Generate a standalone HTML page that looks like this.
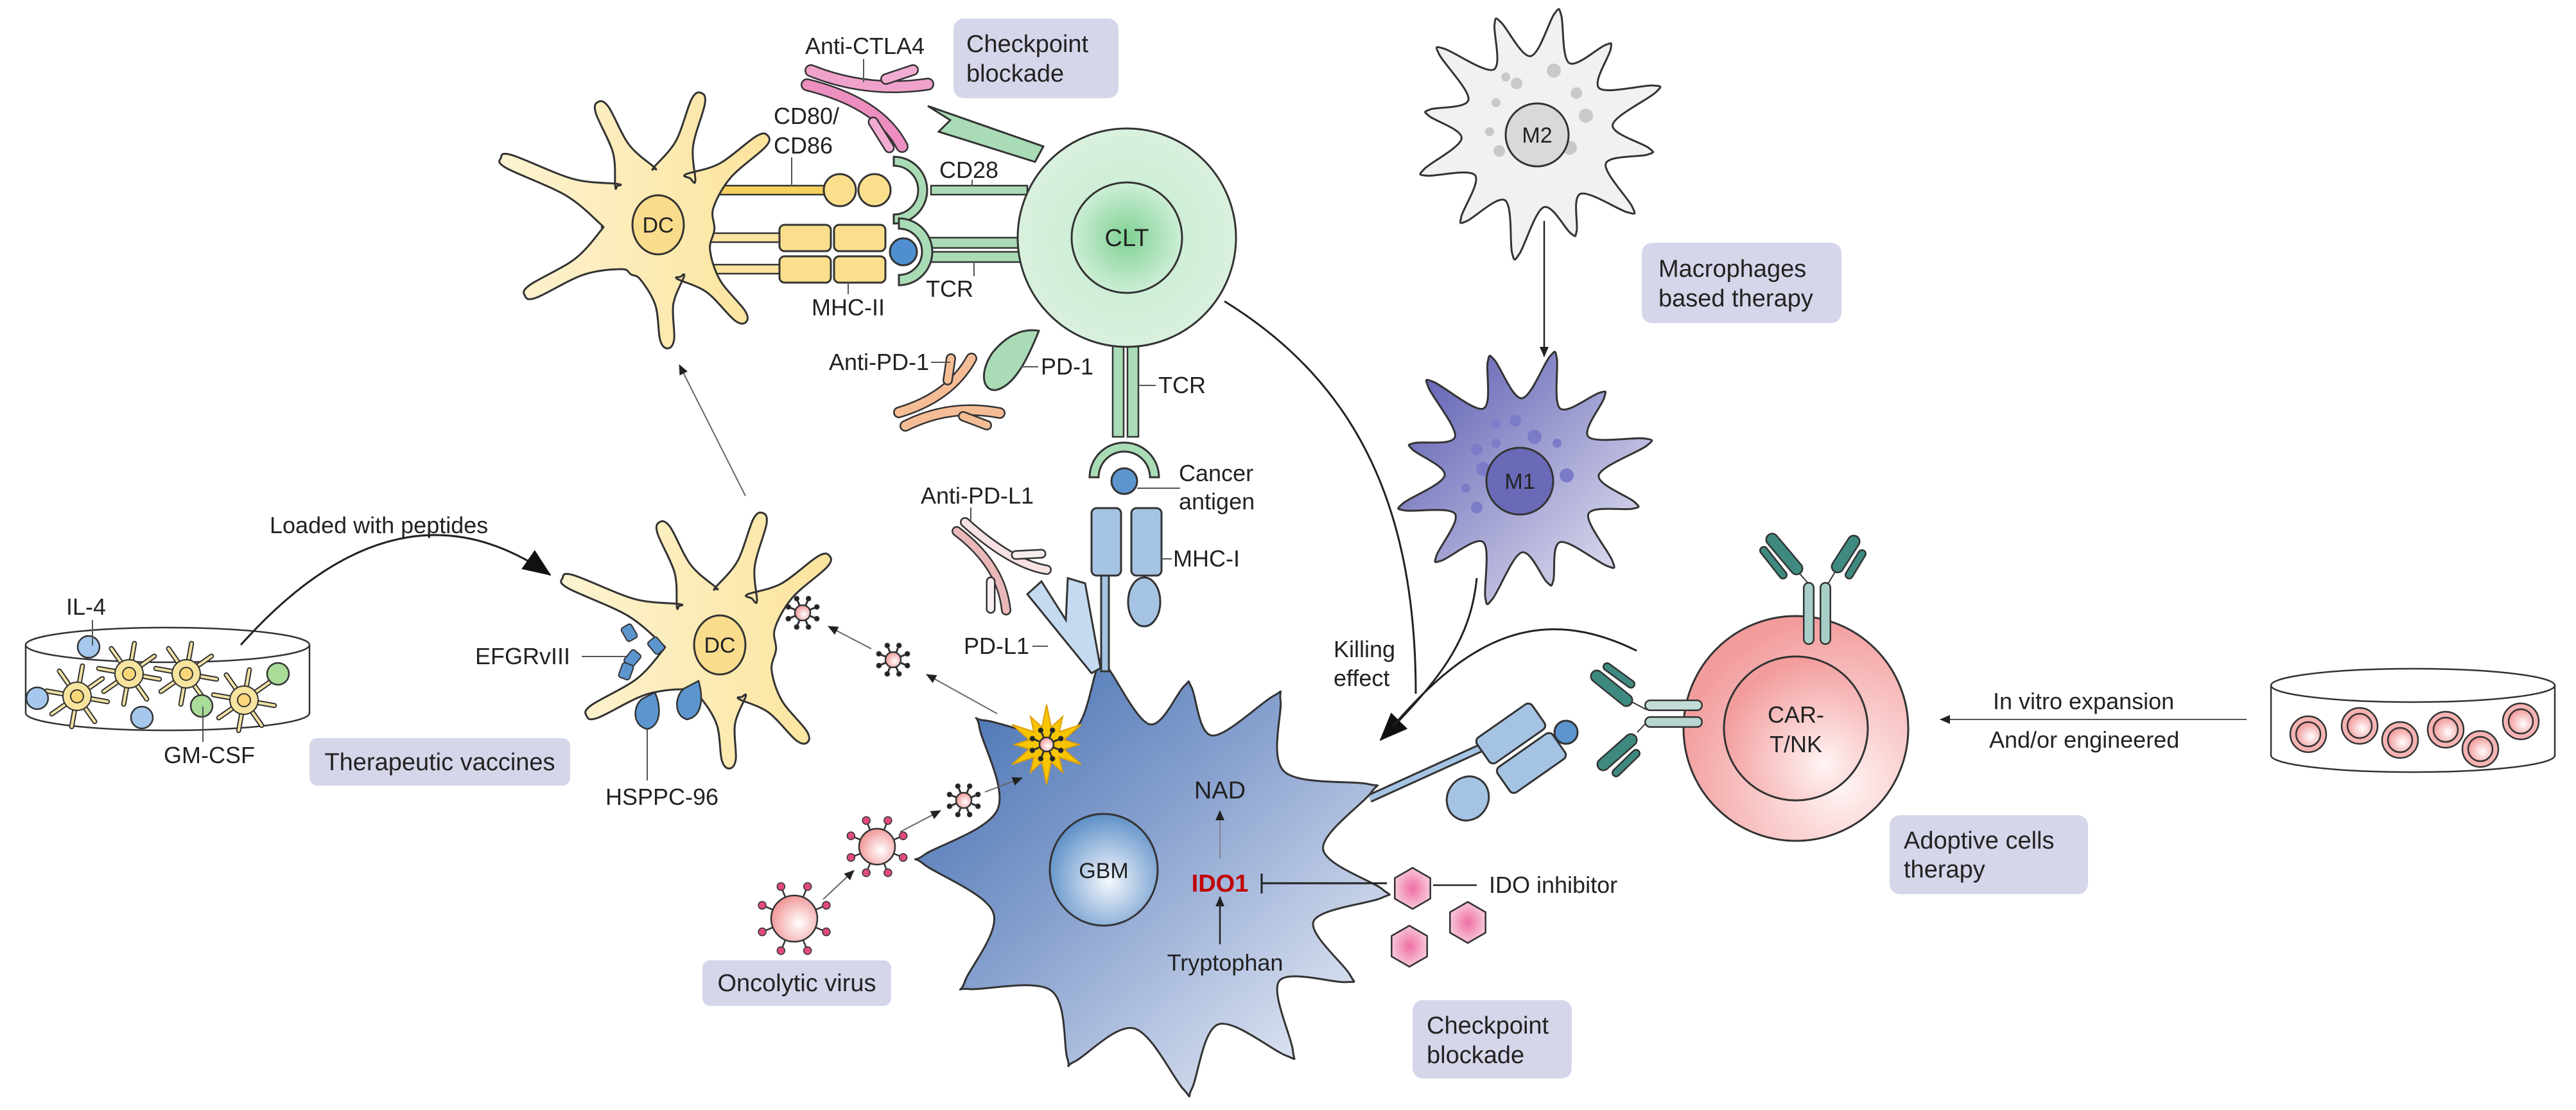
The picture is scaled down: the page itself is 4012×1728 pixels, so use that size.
<!DOCTYPE html>
<html><head><meta charset="utf-8">
<style>
html,body{margin:0;padding:0;background:#fff;}
svg{display:block;}
text{font-family:"Liberation Sans",Arial,sans-serif;fill:#222;}
</style></head>
<body>
<svg id="s" width="4012" height="1728" viewBox="0 0 4012 1728" xmlns="http://www.w3.org/2000/svg">
<defs>
<linearGradient id="gbm" x1="0" y1="0" x2="1" y2="1">
<stop offset="0" stop-color="#3a69ae"/><stop offset="0.45" stop-color="#89a2cf"/><stop offset="1" stop-color="#f6f7fc"/></linearGradient>
<radialGradient id="gnuc" cx="0.55" cy="0.6" r="0.6"><stop offset="0" stop-color="#f5f8fd"/><stop offset="1" stop-color="#5e90c8"/></radialGradient>
<radialGradient id="clt" cx="0.5" cy="0.5" r="0.5"><stop offset="0" stop-color="#c4ead0"/><stop offset="1" stop-color="#d9f1de"/></radialGradient>
<radialGradient id="cltn" cx="0.5" cy="0.5" r="0.5"><stop offset="0" stop-color="#7fd194"/><stop offset="1" stop-color="#cdeed5"/></radialGradient>
<linearGradient id="dc" x1="0" y1="0" x2="1" y2="0"><stop offset="0" stop-color="#fdf3d2"/><stop offset="1" stop-color="#fbe49c"/></linearGradient>
<linearGradient id="m1" x1="0" y1="0" x2="1" y2="1"><stop offset="0" stop-color="#5656b0"/><stop offset="1" stop-color="#eeeef7"/></linearGradient>
<radialGradient id="car" cx="0.7" cy="0.75" r="0.75"><stop offset="0" stop-color="#fff4f4"/><stop offset="1" stop-color="#f39c9c"/></radialGradient>
<radialGradient id="hex" cx="0.5" cy="0.5" r="0.5"><stop offset="0" stop-color="#ee6fa3"/><stop offset="1" stop-color="#f8c6da"/></radialGradient>
<radialGradient id="pk" cx="0.6" cy="0.6" r="0.6"><stop offset="0" stop-color="#fff"/><stop offset="1" stop-color="#f29a9a"/></radialGradient>
<marker id="ah" markerWidth="10" markerHeight="10" refX="9" refY="5" orient="auto" markerUnits="userSpaceOnUse"><path d="M0,0 L10,5 L0,10 z" fill="#222"/></marker>
<marker id="ahs" markerWidth="16" markerHeight="14" refX="15" refY="7" orient="auto" markerUnits="userSpaceOnUse"><path d="M0,0 L16,7 L0,14 z" fill="#222"/></marker>
<marker id="ahb" markerWidth="44" markerHeight="36" refX="42" refY="18" orient="auto" markerUnits="userSpaceOnUse"><path d="M0,0 L44,18 L0,36 z" fill="#111"/></marker>
</defs>

<g fill="#d6d6ea">
<rect x="1485" y="29" width="257" height="124" rx="16"/>
<rect x="2557" y="378" width="311" height="125" rx="16"/>
<rect x="482" y="1149" width="406" height="74" rx="12"/>
<rect x="1094" y="1495" width="294" height="71" rx="12"/>
<rect x="2200" y="1557" width="248" height="122" rx="16"/>
<rect x="2943" y="1269" width="309" height="123" rx="16"/>
</g>

<g id="cells"></g>

<g fill="none" stroke="#222" stroke-width="3">
<path d="M1907,469 C2120,600 2205,800 2205,1080"/>
<path d="M2300,900 C2290,1000 2240,1060 2150,1152" marker-end="url(#ahb)"/>
<path d="M2549,1013 C2400,940 2290,990 2170,1130"/>
<path d="M375,1004 Q620,730 857,895" marker-end="url(#ahb)"/>
<line x1="2405" y1="344" x2="2405" y2="555" stroke-width="2.5" marker-end="url(#ahs)"/>
<line x1="3499" y1="1120" x2="3022" y2="1120" stroke-width="2" stroke="#555" marker-end="url(#ahs)"/>
<line x1="1161" y1="772" x2="1058" y2="568" stroke-width="2" stroke="#666" marker-end="url(#ahs)"/>
<line x1="1553" y1="1111" x2="1443" y2="1050" stroke-width="2" stroke="#666" marker-end="url(#ahs)"/>
<line x1="1357" y1="1010" x2="1290" y2="975" stroke-width="2" stroke="#666" marker-end="url(#ahs)"/>
<line x1="1534" y1="1233" x2="1592" y2="1211" stroke-width="2" stroke="#666" marker-end="url(#ahs)"/>
<line x1="1282" y1="1400" x2="1330" y2="1355" stroke-width="2" stroke="#666" marker-end="url(#ahs)"/>
<line x1="1402" y1="1295" x2="1465" y2="1262" stroke-width="2" stroke="#666" marker-end="url(#ahs)"/>
<line x1="1900" y1="1470" x2="1900" y2="1396" stroke-width="2.5" marker-end="url(#ahs)"/>
<line x1="1900" y1="1336" x2="1900" y2="1262" stroke-width="1.5" stroke="#777" marker-end="url(#ahs)"/>
<line x1="2160" y1="1375" x2="1965" y2="1375" stroke-width="3"/>
<line x1="1965" y1="1360" x2="1965" y2="1391" stroke-width="3"/>
<line x1="2232" y1="1378" x2="2300" y2="1378" stroke-width="2.5"/>
</g>

<g stroke="#555" stroke-width="2" fill="none">
<line x1="1345" y1="92" x2="1345" y2="128"/>
<line x1="1233" y1="245" x2="1233" y2="290"/>
<line x1="1514" y1="280" x2="1514" y2="290"/>
<line x1="1517" y1="408" x2="1517" y2="430"/>
<line x1="1321" y1="439" x2="1321" y2="458"/>
<line x1="1450" y1="564" x2="1480" y2="564"/>
<line x1="1590" y1="571" x2="1617" y2="571"/>
<line x1="1773" y1="600" x2="1800" y2="600"/>
<line x1="1771" y1="760" x2="1838" y2="760"/>
<line x1="1809" y1="870" x2="1825" y2="870"/>
<line x1="1512" y1="790" x2="1512" y2="812"/>
<line x1="1608" y1="1006" x2="1632" y2="1006"/>
<line x1="906" y1="1022" x2="975" y2="1022"/>
<line x1="1008" y1="1135" x2="1008" y2="1215"/>
<line x1="144" y1="965" x2="144" y2="1005"/>
<line x1="316" y1="1155" x2="316" y2="1100"/>
</g>

<g font-size="36">
<text x="1254" y="84">Anti-CTLA4</text>
<text x="1205" y="193">CD80/</text>
<text x="1205" y="239">CD86</text>
<text x="1463" y="277">CD28</text>
<text x="1479" y="462" text-anchor="middle">TCR</text>
<text x="1321" y="491" text-anchor="middle">MHC-II</text>
<text x="1447" y="576" text-anchor="end">Anti-PD-1</text>
<text x="1621" y="583">PD-1</text>
<text x="1804" y="612">TCR</text>
<text x="1836" y="749">Cancer</text>
<text x="1836" y="793">antigen</text>
<text x="1827" y="882">MHC-I</text>
<text x="1434" y="784">Anti-PD-L1</text>
<text x="1501" y="1018">PD-L1</text>
<text x="888" y="1034" text-anchor="end">EFGRvIII</text>
<text x="1031" y="1253" text-anchor="middle">HSPPC-96</text>
<text x="134" y="957" text-anchor="middle">IL-4</text>
<text x="326" y="1188" text-anchor="middle">GM-CSF</text>
<text x="420" y="830">Loaded with peptides</text>
<text x="2077" y="1023">Killing</text>
<text x="2077" y="1068">effect</text>
<text x="1900" y="1243" text-anchor="middle" font-size="38">NAD</text>
<text x="1900" y="1388" text-anchor="middle" font-size="38" font-weight="bold" style="fill:#c00000">IDO1</text>
<text x="1908" y="1511" text-anchor="middle">Tryptophan</text>
<text x="2319" y="1390">IDO inhibitor</text>
<text x="3104" y="1104">In vitro expansion</text>
<text x="3098" y="1164">And/or engineered</text>
</g>
<g font-size="38">
<text x="1505" y="81">Checkpoint</text>
<text x="1505" y="127">blockade</text>
<text x="2583" y="431">Macrophages</text>
<text x="2583" y="477">based therapy</text>
<text x="685" y="1199" text-anchor="middle">Therapeutic vaccines</text>
<text x="1241" y="1543" text-anchor="middle">Oncolytic virus</text>
<text x="2222" y="1609">Checkpoint</text>
<text x="2222" y="1655">blockade</text>
<text x="2965" y="1321">Adoptive cells</text>
<text x="2965" y="1366">therapy</text>
</g>
</svg>
<script>
(function(){
var NS="http://www.w3.org/2000/svg";
var g=document.getElementById('cells');
function el(t,a,parent){var e=document.createElementNS(NS,t);for(var k in a)e.setAttribute(k,a[k]);(parent||g).appendChild(e);return e;}
function cr(pts,t){t=t||1;var n=pts.length,d='M'+pts[0][0].toFixed(1)+','+pts[0][1].toFixed(1);
for(var i=0;i<n;i++){var p0=pts[(i-1+n)%n],p1=pts[i],p2=pts[(i+1)%n],p3=pts[(i+2)%n];
var c1=[p1[0]+(p2[0]-p0[0])/6*t,p1[1]+(p2[1]-p0[1])/6*t],c2=[p2[0]-(p3[0]-p1[0])/6*t,p2[1]-(p3[1]-p1[1])/6*t];
d+=' C'+c1[0].toFixed(1)+','+c1[1].toFixed(1)+' '+c2[0].toFixed(1)+','+c2[1].toFixed(1)+' '+p2[0].toFixed(1)+','+p2[1].toFixed(1);}
return d+'Z';}
function rad(a){return a*Math.PI/180;}
function dcPath(cx,cy,arms,R){var pts=[];arms.sort(function(a,b){return a[0]-b[0];});
for(var i=0;i<arms.length;i++){var a=rad(arms[i][0]),L=arms[i][1],u=[Math.cos(a),Math.sin(a)],p=[-Math.sin(a),Math.cos(a)];
function P(r,w){return [cx+r*u[0]+w*p[0],cy+r*u[1]+w*p[1]];}
pts.push(P(R-5,-34));pts.push(P(R+(L-R)*0.35,-14));pts.push(P(L-14,-11));pts.push(P(L,0));pts.push(P(L-14,11));pts.push(P(R+(L-R)*0.35,14));pts.push(P(R-5,34));
var nx=arms[(i+1)%arms.length][0];if(nx<arms[i][0])nx+=360;var m=rad((arms[i][0]+nx)/2);
pts.push([cx+R*Math.cos(m),cy+R*Math.sin(m)]);}
return cr(pts,1);}
function starCell(cx,cy,n,ro,ri,ph,jit){var pts=[];for(var i=0;i<n;i++){var a=rad(ph+i*360/n),j=jit?jit[i%jit.length]:1;
var a2=rad(ph+(i+0.5)*360/n);var w=0.03;
pts.push([cx+ro*j*Math.cos(a-w),cy+ro*j*Math.sin(a-w)]);pts.push([cx+ro*j*Math.cos(a+w),cy+ro*j*Math.sin(a+w)]);
pts.push([cx+ri*Math.cos(a2),cy+ri*Math.sin(a2)]);}
return cr(pts,1);}
var S='#333';
var gc=[1800,1360],tips=[[1716,1037],[1850,1069],[1989,1087],[2133,1227],[2152,1391],[2099,1523],[2008,1639],[1850,1695],[1668,1650],[1506,1534],[1439,1338],[1530,1127]];
var tp=tips.map(function(t){var dx=t[0]-gc[0],dy=t[1]-gc[1];return [Math.atan2(dy,dx),Math.sqrt(dx*dx+dy*dy)];}).sort(function(a,b){return a[0]-b[0];});
var gp=[];for(var i=0;i<tp.length;i++){var a=tp[i][0],r=tp[i][1];gp.push([gc[0]+r*Math.cos(a-0.02),gc[1]+r*Math.sin(a-0.02)]);gp.push([gc[0]+r*Math.cos(a+0.02),gc[1]+r*Math.sin(a+0.02)]);
var nx=tp[(i+1)%tp.length],b=nx[0];if(b<a)b+=2*Math.PI;var m=(a+b)/2,rv=0.74*(r+nx[1])/2;gp.push([gc[0]+rv*Math.cos(m),gc[1]+rv*Math.sin(m)]);}
el('line',{x1:2133,y1:1243,x2:2316,y2:1160,stroke:S,'stroke-width':14});
el('line',{x1:2133,y1:1243,x2:2316,y2:1160,stroke:'#a5c4e4','stroke-width':8});
el('path',{d:cr(gp,1),fill:'url(#gbm)',stroke:S,'stroke-width':3});
el('ellipse',{cx:1719,cy:1354,rx:84,ry:87,fill:'url(#gnuc)',stroke:S,'stroke-width':3});
el('text',{x:1719,y:1367,'text-anchor':'middle','font-size':34}).textContent='GBM';
var mg=el('g',{transform:'rotate(-35 2372 1170)'});
el('rect',{x:2320,y:1112,width:105,height:48,rx:8,fill:'#a5c4e4',stroke:S,'stroke-width':3},mg);
el('rect',{x:2320,y:1168,width:105,height:48,rx:8,fill:'#a5c4e4',stroke:S,'stroke-width':3},mg);
el('circle',{cx:2439,cy:1140,r:18,fill:'#5d95cf',stroke:S,'stroke-width':3});
el('ellipse',{cx:2286,cy:1243,rx:32,ry:35,fill:'#a5c4e4',stroke:S,'stroke-width':3,transform:'rotate(30 2286 1243)'});
el('rect',{x:1715,y:890,width:12,height:155,fill:'#a5c4e4',stroke:S,'stroke-width':3});
el('path',{d:'M1600,925 L1622,905 L1660,965 L1663,900 L1690,908 L1714,1040 L1700,1048 Z',fill:'#c4daf0',stroke:S,'stroke-width':3});
var arms=[[48,204],[85.5,193],[152,235],[203,266],[244,213],[288,216],[321,220]];
function dc(cx,cy){el('path',{d:dcPath(cx,cy,arms.map(function(a){return a.slice();}),88),fill:'url(#dc)',stroke:S,'stroke-width':3});
el('ellipse',{cx:cx,cy:cy,rx:40,ry:46,fill:'#f9dc8c',stroke:S,'stroke-width':3});
el('text',{x:cx,y:cy+12,'text-anchor':'middle','font-size':34}).textContent='DC';}
el('rect',{x:1100,y:289,width:190,height:14,fill:'#f6cf5c',stroke:S,'stroke-width':2.5});
el('rect',{x:1100,y:363,width:118,height:14,fill:'#fbe3a0',stroke:S,'stroke-width':2.5});
el('rect',{x:1100,y:412,width:118,height:14,fill:'#fbe3a0',stroke:S,'stroke-width':2.5});
dc(1025,350);dc(1121,1004);
el('circle',{cx:1308,cy:296,r:25,fill:'#fbdf8c',stroke:S,'stroke-width':3});
el('circle',{cx:1362,cy:296,r:25,fill:'#fbdf8c',stroke:S,'stroke-width':3});
[[1214,350],[1299,350],[1214,399],[1299,399]].forEach(function(b){el('rect',{x:b[0],y:b[1],width:80,height:41,rx:8,fill:'#fbdf8c',stroke:S,'stroke-width':3});});
el('path',{d:'M1445,165 L1625,228 L1612,252 L1462,205 L1480,187 Z',fill:'#a9dcb6',stroke:S,'stroke-width':3});
el('rect',{x:1450,y:289,width:150,height:14,fill:'#a9dcb6',stroke:S,'stroke-width':2.5});
el('rect',{x:1440,y:370,width:150,height:16,fill:'#a9dcb6',stroke:S,'stroke-width':2.5});
el('rect',{x:1440,y:392,width:150,height:16,fill:'#a9dcb6',stroke:S,'stroke-width':2.5});
el('rect',{x:1733,y:520,width:17,height:160,fill:'#a9dcb6',stroke:S,'stroke-width':2.5});
el('rect',{x:1756,y:520,width:17,height:160,fill:'#a9dcb6',stroke:S,'stroke-width':2.5});
el('path',{d:'M1618,515 C1600,560 1580,600 1552,607 C1530,610 1525,580 1545,550 C1565,525 1590,510 1618,515Z',fill:'#a9dcb6',stroke:S,'stroke-width':3});
el('circle',{cx:1755,cy:370,r:170,fill:'url(#clt)',stroke:S,'stroke-width':3});
el('circle',{cx:1755,cy:370,r:86,fill:'url(#cltn)',stroke:S,'stroke-width':3});
el('text',{x:1755,y:383,'text-anchor':'middle','font-size':38}).textContent='CLT';
function cup(cx,cy,ro,ri,rot){var d='M'+(cx)+','+(cy-ro)+' A'+ro+','+ro+' 0 0 1 '+cx+','+(cy+ro)+' L'+cx+','+(cy+ri)+' A'+ri+','+ri+' 0 0 0 '+cx+','+(cy-ri)+' Z';
el('path',{d:d,fill:'#a9dcb6',stroke:S,'stroke-width':3,transform:'rotate('+rot+' '+cx+' '+cy+')'});}
cup(1392,296,52,38,0);cup(1400,392,52,36,0);cup(1751,743,54,40,-90);
el('circle',{cx:1407,cy:392,r:21,fill:'#4f8fd0',stroke:S,'stroke-width':3});
el('circle',{cx:1751,cy:749,r:20,fill:'#5d95cf',stroke:S,'stroke-width':3});
el('rect',{x:1700,y:791,width:46,height:105,rx:8,fill:'#a5c4e4',stroke:S,'stroke-width':3});
el('rect',{x:1762,y:791,width:47,height:105,rx:8,fill:'#a5c4e4',stroke:S,'stroke-width':3});
el('ellipse',{cx:1782,cy:937,rx:25,ry:38,fill:'#a5c4e4',stroke:S,'stroke-width':3});
// band/pill helpers
function band(d,w,c){el('path',{d:d,fill:'none',stroke:S,'stroke-width':w+5,'stroke-linecap':'round','stroke-linejoin':'round'});el('path',{d:d,fill:'none',stroke:c,'stroke-width':w,'stroke-linecap':'round','stroke-linejoin':'round'});}
function pill(x1,y1,x2,y2,w,c){band('M'+x1+','+y1+' L'+x2+','+y2,w,c);}
// Anti-CTLA4
band('M1263,110 Q1350,145 1445,131',15,'#f0a2cc');
band('M1257,132 Q1370,160 1405,228',15,'#ec8fc0');
pill(1380,123,1422,109,13,'#f2acd2');pill(1360,190,1385,230,12,'#f2acd2');
// Anti-PD-1
band('M1400,642 Q1480,618 1513,558',13,'#f5bd96');
band('M1410,663 Q1480,628 1557,643',13,'#f5bd96');
pill(1481,558,1476,592,11,'#f5bd96');pill(1500,648,1537,662,11,'#f5bd96');
// Anti-PD-L1
band('M1503,813 Q1575,878 1630,887',11,'#f6e2e2');
band('M1490,827 Q1560,880 1567,950',11,'#eab8b8');
pill(1582,864,1622,862,10,'#f8eeee');pill(1543,905,1543,948,10,'#f8eeee');
// M2
var jit=[1,0.93,1.05,0.95,1.02,0.9,1.04,0.96,1,0.92,1.05,0.97];
el('path',{d:starCell(2394,205,12,185,118,-80,jit),fill:'#f1f1f1',stroke:S,'stroke-width':3});
[[2345,120],[2362,130],[2420,110],[2330,160],[2455,145],[2470,180],[2320,205],[2335,235],[2445,230]].forEach(function(p,i){el('circle',{cx:p[0],cy:p[1],r:7+i%3*2,fill:'#c9c9c9'});});
el('circle',{cx:2394,cy:210,r:49,fill:'#d9d9d9',stroke:S,'stroke-width':3});
el('text',{x:2394,y:222,'text-anchor':'middle','font-size':34}).textContent='M2';
el('path',{d:starCell(2370,740,12,190,120,-75,jit),fill:'url(#m1)',stroke:S,'stroke-width':3});
[[2330,660],[2360,655],[2390,680],[2425,690],[2300,700],[2310,730],[2283,760],[2300,790],[2440,740],[2330,690]].forEach(function(p,i){el('circle',{cx:p[0],cy:p[1],r:7+i%3*2,fill:'#7b7bc8'});});
el('circle',{cx:2367,cy:749,r:52,fill:'#6a6ab8',stroke:S,'stroke-width':3});
el('text',{x:2367,y:761,'text-anchor':'middle','font-size':34}).textContent='M1';
// CAR cell
el('line',{x1:2800,y1:890,x2:2820,y2:912,stroke:S,'stroke-width':2});el('line',{x1:2860,y1:887,x2:2845,y2:912,stroke:S,'stroke-width':2});
pill(2760,840,2798,885,16,'#3f8a80');pill(2747,857,2777,895,9,'#3f8a80');
pill(2887,843,2862,882,16,'#3f8a80');pill(2900,862,2880,895,9,'#3f8a80');
el('circle',{cx:2797,cy:1134,r:175,fill:'url(#car)',stroke:S,'stroke-width':3});
el('circle',{cx:2797,cy:1134,r:112,fill:'url(#car)',stroke:S,'stroke-width':3});
pill(2817,915,2817,995,13,'#a7cfc8');pill(2843,915,2843,995,13,'#a7cfc8');
el('text',{x:2797,y:1125,'text-anchor':'middle','font-size':36}).textContent='CAR-';
el('text',{x:2797,y:1171,'text-anchor':'middle','font-size':36}).textContent='T/NK';
el('line',{x1:2540,y1:1092,x2:2565,y2:1105,stroke:S,'stroke-width':2});el('line',{x1:2550,y1:1140,x2:2567,y2:1122,stroke:S,'stroke-width':2});
pill(2570,1098,2643,1098,13,'#c4dcd8');pill(2570,1124,2643,1124,13,'#b8d6d1');
pill(2487,1053,2533,1090,16,'#3f8a80');pill(2503,1038,2540,1065,9,'#3f8a80');
pill(2497,1190,2540,1152,16,'#3f8a80');pill(2517,1203,2548,1173,9,'#3f8a80');
function hex(cx,cy,r){var p=[];for(var i=0;i<6;i++){var a=rad(90+60*i);p.push((cx+r*Math.cos(a)).toFixed(1)+','+(cy+r*Math.sin(a)).toFixed(1));}
el('polygon',{points:p.join(' '),fill:'url(#hex)',stroke:S,'stroke-width':2.5});}
hex(2200,1383,32);hex(2286,1436,32);hex(2195,1473,32);
function virus(cx,cy,r,sp,big){var n=8;for(var i=0;i<n;i++){var a=rad(i*360/n+22.5),x2=cx+(r+sp)*Math.cos(a),y2=cy+(r+sp)*Math.sin(a);
el('line',{x1:cx,y1:cy,x2:x2,y2:y2,stroke:'#333','stroke-width':big?2.5:3});
el('circle',{cx:x2,cy:y2,r:big?6:3.5,fill:big?'#e04a80':'#222',stroke:'#333','stroke-width':1.5});}
el('circle',{cx:cx,cy:cy,r:r,fill:'url(#pk)',stroke:S,'stroke-width':2.5});}
var sp=[];for(var i=0;i<24;i++){var a=rad(i*15),r=i%2?28:(50+(i%4)*6);sp.push((1630+r*Math.cos(a)).toFixed(1)+','+(1159+r*Math.sin(a)).toFixed(1));}
el('polygon',{points:sp.join(' '),fill:'#f7c600',stroke:'#e0a000','stroke-width':2});
virus(1630,1159,11,13,false);
virus(1237,1430,36,18,true);virus(1366,1318,28,16,true);
virus(1501,1246,12,12,false);virus(1391,1027,12,12,false);virus(1250,954,12,12,false);
[[980,985,-30],[1022,1005,-40],[985,1025,40],[975,1045,20]].forEach(function(b){el('rect',{x:b[0]-9,y:b[1]-12,width:18,height:24,rx:4,fill:'#5d95cf',stroke:S,'stroke-width':2,transform:'rotate('+b[2]+' '+b[0]+' '+b[1]+')'});});
el('path',{d:'M1008,1135 C985,1130 985,1100 1000,1088 L1020,1078 C1030,1100 1030,1130 1008,1135Z',fill:'#5d95cf',stroke:S,'stroke-width':2.5});
el('path',{d:'M1070,1120 C1050,1115 1050,1085 1065,1072 L1088,1060 C1095,1085 1095,1115 1070,1120Z',fill:'#5d95cf',stroke:S,'stroke-width':2.5});
el('path',{d:'M40,1004 L40,1110 A221,27 0 0 0 482,1110 L482,1004',fill:'#fff',stroke:S,'stroke-width':2.5});
el('ellipse',{cx:261,cy:1004,rx:221,ry:27,fill:'#fff',stroke:S,'stroke-width':2.5});
[[120,1084],[201,1049],[290,1049],[380,1090]].forEach(function(c){for(var i=0;i<8;i++){var a=rad(i*45+10);
el('line',{x1:c[0],y1:c[1],x2:c[0]+48*Math.cos(a),y2:c[1]+48*Math.sin(a),stroke:'#333','stroke-width':8,'stroke-linecap':'round'});
el('line',{x1:c[0],y1:c[1],x2:c[0]+48*Math.cos(a),y2:c[1]+48*Math.sin(a),stroke:'#f2e3a6','stroke-width':4,'stroke-linecap':'round'});}
el('circle',{cx:c[0],cy:c[1],r:22,fill:'#f7e49e',stroke:S,'stroke-width':2});el('circle',{cx:c[0],cy:c[1],r:10,fill:'#f9d778',stroke:S,'stroke-width':2});});
[[138,1007,'#a5c8ec'],[58,1087,'#a5c8ec'],[221,1117,'#a5c8ec'],[433,1049,'#a8dc98'],[314,1099,'#a8dc98']].forEach(function(c){el('circle',{cx:c[0],cy:c[1],r:17,fill:c[2],stroke:S,'stroke-width':2.5});});
el('path',{d:'M3537,1067 L3537,1176 A221,26 0 0 0 3979,1176 L3979,1067',fill:'#fff',stroke:S,'stroke-width':2.5});
el('ellipse',{cx:3758,cy:1067,rx:221,ry:26,fill:'#fff',stroke:S,'stroke-width':2.5});
[[3595,1143],[3675,1130],[3738,1152],[3809,1136],[3863,1166],[3926,1123]].forEach(function(c){el('circle',{cx:c[0],cy:c[1],r:28,fill:'#f6b3b3',stroke:S,'stroke-width':2.5});el('circle',{cx:c[0],cy:c[1],r:19,fill:'url(#pk)',stroke:S,'stroke-width':2.5});});
})();
</script>
</body></html>
